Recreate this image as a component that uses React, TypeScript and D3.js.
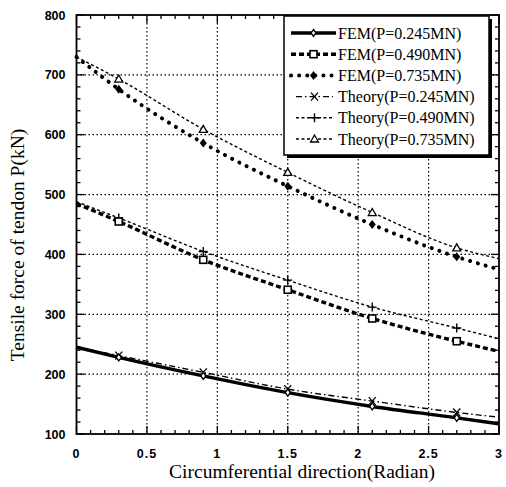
import React, { useEffect, useRef } from "react";
import * as d3 from "d3";

const W = 506;
const H = 487;
const MARGIN = { top: 15, right: 7, bottom: 53, left: 76.5 };

// x positions of the computed points (radian)
const xs = [0, 0.3, 0.9, 1.5, 2.1, 2.7, 3.0];

const fem245 = [245, 228, 197, 169, 146, 127, 117];
const fem490 = [485, 455, 391, 341, 293, 255, 238];
const fem735 = [730, 676, 586, 514, 450, 396, 375];
const th245 = [245, 231, 203, 175, 155, 136, 128];
const th490 = [488, 461, 405, 357, 312, 277, 259];
const th735 = [730, 693, 609, 537, 470, 411, 393];

const seriesNames = [
  "FEM(P=0.245MN)",
  "FEM(P=0.490MN)",
  "FEM(P=0.735MN)",
  "Theory(P=0.245MN)",
  "Theory(P=0.490MN)",
  "Theory(P=0.735MN)",
];

const xTicks = [0, 0.5, 1, 1.5, 2, 2.5, 3];
const xTickLabels = ["0", "0.5", "1", "1.5", "2", "2.5", "3"];
const yTicks = [100, 200, 300, 400, 500, 600, 700, 800];

type Style = { width: number; dash: string; cap: string; marker: string };
const styles: Style[] = [
  { width: 3.4, dash: "", cap: "butt", marker: "diamond" },
  { width: 3.4, dash: "5,3", cap: "butt", marker: "square" },
  { width: 4, dash: "0.1,8", cap: "round", marker: "dot" },
  { width: 1.4, dash: "6,3,1.5,3", cap: "butt", marker: "cross" },
  { width: 1.4, dash: "3,2.5", cap: "butt", marker: "plus" },
  { width: 1.4, dash: "3,2.5", cap: "butt", marker: "triangle" },
];

const SERIF = "Liberation Serif, Times New Roman, serif";
const SANS = "Liberation Sans, Arial, sans-serif";

const App = () => {
  const ref = useRef<SVGSVGElement | null>(null);

  useEffect(() => {
    const svg = d3.select(ref.current);
    svg.selectAll("*").remove();
    const bw = W - MARGIN.left - MARGIN.right;
    const bh = H - MARGIN.top - MARGIN.bottom;
    const x = d3.scaleLinear().domain([0, 3]).range([0, bw]);
    const y = d3.scaleLinear().domain([100, 800]).range([bh, 0]);
    const g = svg.append("g").attr("transform", `translate(${MARGIN.left},${MARGIN.top})`);

    // grid
    xTicks.slice(1, -1).forEach((t) =>
      g.append("line").attr("x1", x(t)).attr("x2", x(t)).attr("y1", 0).attr("y2", bh)
        .attr("stroke", "#000").attr("stroke-width", 1.2).attr("stroke-dasharray", "1.5,2.5")
    );
    yTicks.slice(1, -1).forEach((t) =>
      g.append("line").attr("y1", y(t)).attr("y2", y(t)).attr("x1", 0).attr("x2", bw)
        .attr("stroke", "#000").attr("stroke-width", 1.2).attr("stroke-dasharray", "1.5,2.5")
    );

    // axes (inward ticks on all four sides)
    const minorX = d3.range(0, 3.0001, 0.1);
    const minorY = d3.range(100, 800.1, 20);
    const ax = g.append("g").attr("stroke", "#000").attr("stroke-width", 1.3);
    minorX.forEach((t) => {
      const major = Math.abs(t * 2 - Math.round(t * 2)) < 1e-6;
      const len = major ? 8 : 4;
      ax.append("line").attr("x1", x(t)).attr("x2", x(t)).attr("y1", bh).attr("y2", bh - len);
      ax.append("line").attr("x1", x(t)).attr("x2", x(t)).attr("y1", 0).attr("y2", len);
    });
    minorY.forEach((t) => {
      const major = t % 100 === 0;
      const len = major ? 8 : 4;
      ax.append("line").attr("y1", y(t)).attr("y2", y(t)).attr("x1", 0).attr("x2", len);
      ax.append("line").attr("y1", y(t)).attr("y2", y(t)).attr("x1", bw).attr("x2", bw - len);
    });
    g.append("rect").attr("width", bw).attr("height", bh).attr("fill", "none")
      .attr("stroke", "#000").attr("stroke-width", 1.8);

    xTicks.forEach((t, i) =>
      g.append("text").attr("x", x(t)).attr("y", bh + 24).attr("text-anchor", "middle")
        .attr("font-family", SANS).attr("font-size", 12.5)
        .attr("font-weight", "bold").attr("letter-spacing", 1).text(xTickLabels[i])
    );
    yTicks.forEach((t) =>
      g.append("text").attr("x", -11).attr("y", y(t) + 4.5).attr("text-anchor", "end")
        .attr("font-family", SANS).attr("font-size", 12.5)
        .attr("font-weight", "bold").text(String(t))
    );

    svg.append("text").attr("x", 302).attr("y", H - 9).attr("text-anchor", "middle")
      .attr("font-family", SERIF).attr("font-size", 19.5)
      .text("Circumferential direction(Radian)");
    svg.append("text").attr("transform", `translate(24,245) rotate(-90)`)
      .attr("text-anchor", "middle")
      .attr("font-family", SERIF).attr("font-size", 19.5)
      .text("Tensile force of tendon P(kN)");

    const drawMarker = (sel: any, kind: string, cx: number, cy: number) => {
      if (kind === "diamond") {
        sel.append("path").attr("d", `M${cx},${cy - 3.5}L${cx + 2.5},${cy}L${cx},${cy + 3.5}L${cx - 2.5},${cy}Z`)
          .attr("fill", "#fff").attr("stroke", "#000").attr("stroke-width", 1.3);
      } else if (kind === "square") {
        sel.append("rect").attr("x", cx - 3.5).attr("y", cy - 3.5).attr("width", 7).attr("height", 7)
          .attr("fill", "#fff").attr("stroke", "#000").attr("stroke-width", 1.6);
      } else if (kind === "dot") {
        sel.append("path").attr("d", `M${cx},${cy - 4.5}L${cx + 3.5},${cy}L${cx},${cy + 4.5}L${cx - 3.5},${cy}Z`)
          .attr("fill", "#000");
      } else if (kind === "cross") {
        sel.append("path").attr("d", `M${cx - 3.5},${cy - 4}L${cx + 3.5},${cy + 4}M${cx - 3.5},${cy + 4}L${cx + 3.5},${cy - 4}`)
          .attr("stroke", "#000").attr("stroke-width", 1.3);
      } else if (kind === "plus") {
        sel.append("path").attr("d", `M${cx - 4.5},${cy}L${cx + 4.5},${cy}M${cx},${cy - 4.5}L${cx},${cy + 4.5}`)
          .attr("stroke", "#000").attr("stroke-width", 1.4);
      } else if (kind === "triangle") {
        sel.append("path").attr("d", `M${cx},${cy - 4}L${cx + 4},${cy + 3}L${cx - 4},${cy + 3}Z`)
          .attr("fill", "#fff").attr("stroke", "#000").attr("stroke-width", 1.3);
      }
    };

    const allSeries = [fem245, fem490, fem735, th245, th490, th735];
    const line = d3.line<number>().x((_, i) => x(xs[i])).y((d) => y(d)).curve(d3.curveMonotoneX);
    // draw theory first, FEM on top
    [3, 4, 5, 0, 1, 2].forEach((k) => {
      const st = styles[k];
      g.append("path").attr("d", line(allSeries[k]) as string).attr("fill", "none")
        .attr("stroke", "#000").attr("stroke-width", st.width)
        .attr("stroke-dasharray", st.dash || null).attr("stroke-linecap", st.cap);
      allSeries[k].forEach((v, i) => {
        if (i === 0 || i === xs.length - 1) return;
        drawMarker(g, st.marker, x(xs[i]), y(v));
      });
    });

    // legend
    const lg = svg.append("g").attr("transform", "translate(284,16)");
    lg.append("rect").attr("x", 3).attr("y", 3).attr("width", 205).attr("height", 139).attr("fill", "#000");
    lg.append("rect").attr("x", 0).attr("y", 0).attr("width", 205).attr("height", 139)
      .attr("fill", "#fff").attr("stroke", "#000").attr("stroke-width", 1.5);
    seriesNames.forEach((name, i) => {
      const st = styles[i];
      const ly = 17 + i * 21.2;
      const x0 = i < 3 ? 7 : 12;
      const x1 = i < 3 ? 52 : 49;
      lg.append("line").attr("x1", x0).attr("x2", x1).attr("y1", ly).attr("y2", ly)
        .attr("stroke", "#000").attr("stroke-width", st.width)
        .attr("stroke-dasharray", st.dash || null).attr("stroke-linecap", st.cap);
      drawMarker(lg, st.marker, (x0 + x1) / 2, ly);
      lg.append("text").attr("x", 54).attr("y", ly + 5.5)
        .attr("font-family", SERIF).attr("font-size", 16)
        .text(name);
    });
  }, []);

  return (
    <svg ref={ref} width={W} height={H} style={{ position: "absolute", left: 0, top: 0, background: "#fff" }} />
  );
};

export default App;
